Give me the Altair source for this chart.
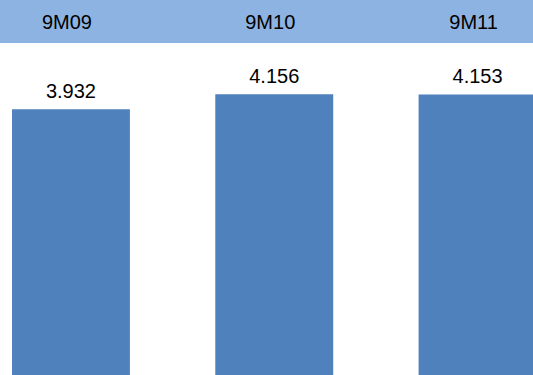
import altair as alt
import pandas as pd

periods = ["9M09", "9M10", "9M11"]
values = [3.932, 4.156, 4.153]
labels = ["3.932", "4.156", "4.153"]

df = pd.DataFrame({"period": periods, "value": values, "label": labels})
band_df = pd.DataFrame({"k": [0]})

FONT = "Liberation Sans"

xenc = alt.X(
    "period:N",
    sort=periods,
    axis=None,
    scale=alt.Scale(range=[0, 548.5], paddingInner=0.42, paddingOuter=0.059),
)
yenc = alt.Y(
    "value:Q",
    axis=None,
    scale=alt.Scale(domain=[0, 5.55], nice=False, zero=True),
)

header = alt.Chart(band_df).mark_rect(color="#8DB3E2").encode(
    x=alt.value(0), x2=alt.value(533), y=alt.value(0), y2=alt.value(43)
)

bars = alt.Chart(df).mark_bar(color="#4F81BD").encode(x=xenc, y=yenc)

header_text = alt.Chart(df).mark_text(
    font=FONT, fontSize=20, dx=-4, baseline="middle", color="#000000"
).encode(x=xenc, y=alt.value(22.5), text="period:N")

value_text = alt.Chart(df).mark_text(
    font=FONT, fontSize=20, baseline="alphabetic", dy=-11, color="#000000"
).encode(x=xenc, y=yenc, text="label:N")

chart = (
    alt.layer(header, bars, header_text, value_text)
    .properties(
        width=533,
        height=375,
        padding=0,
        autosize=alt.AutoSizeParams(type="none"),
        background="#FFFFFF",
    )
    .configure_view(stroke=None)
)

chart.save("out.html", embed_options={"renderer": "svg", "actions": False})
